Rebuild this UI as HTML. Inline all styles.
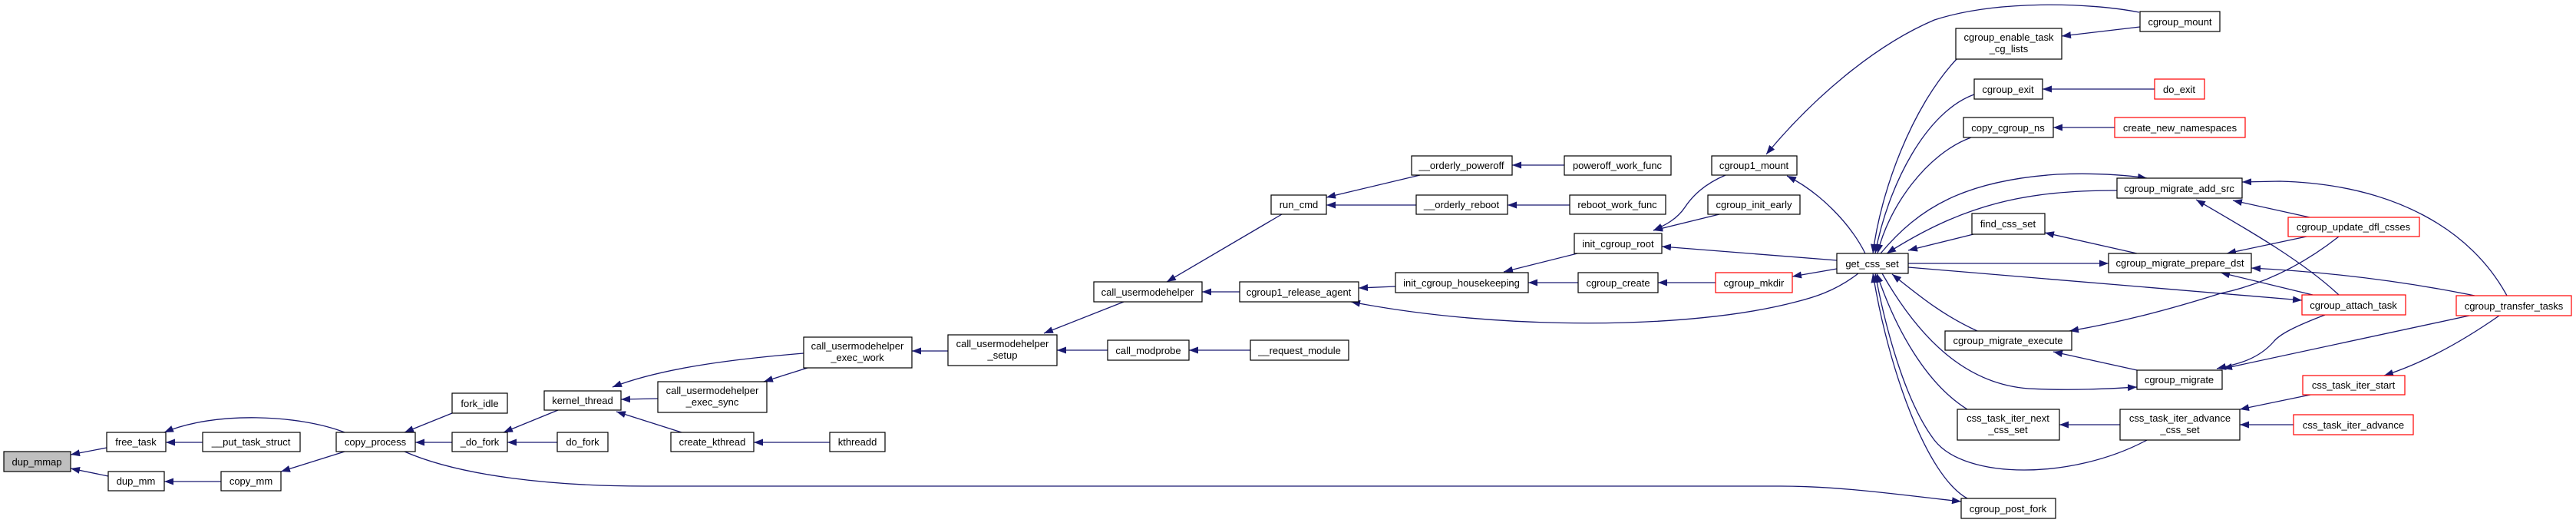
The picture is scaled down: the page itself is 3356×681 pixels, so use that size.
<!DOCTYPE html>
<html><head><meta charset="utf-8"><style>
html,body{margin:0;padding:0;background:#fff;}
svg{display:block;}
text{font-family:"Liberation Sans",sans-serif;font-size:13px;fill:#000;text-anchor:middle;}
.n{fill:#fff;stroke:#000;stroke-width:1.2;}
.r{fill:#fff;stroke:#f00;stroke-width:1.2;}
.g{fill:#bfbfbf;stroke:#000;stroke-width:1.2;}
.e{fill:none;stroke:#191970;stroke-width:1.3;marker-end:url(#a);}
</style></head><body>
<svg width="3356" height="681" viewBox="0 0 3356 681" xmlns="http://www.w3.org/2000/svg">
<defs><marker id="a" markerUnits="userSpaceOnUse" markerWidth="12" markerHeight="9" refX="12" refY="4.5" orient="auto"><path d="M0,0 L12,4.5 L0,9 z" fill="#191970"/></marker></defs>
<g>
<path class="e" d="M139,583 L92,592"/>
<path class="e" d="M141,620 L92,610"/>
<path class="e" d="M264,576 L216,576"/>
<path class="e" d="M449,563 C390,540 280,535 214,563"/>
<path class="e" d="M288,627 L214,627"/>
<path class="e" d="M449,588 L366,614"/>
<path class="e" d="M589,538 L527,563"/>
<path class="e" d="M589,576 L541,576"/>
<path class="e" d="M727,534 L656,563"/>
<path class="e" d="M726,576 L661,576"/>
<path class="e" d="M527,588 C600,620 720,633 840,633 L2320,633 C2400,633 2480,645 2555,653"/>
<path class="e" d="M1047,460 C950,468 860,480 798,504"/>
<path class="e" d="M857,519 L809,520"/>
<path class="e" d="M888,563 L803,536"/>
<path class="e" d="M1052,479 L995,497"/>
<path class="e" d="M1235,457 L1188,457"/>
<path class="e" d="M1081,576 L982,576"/>
<path class="e" d="M1464,393 L1360,434"/>
<path class="e" d="M1443,456 L1377,456"/>
<path class="e" d="M1629,456 L1549,456"/>
<path class="e" d="M1670,279 L1520,367"/>
<path class="e" d="M1615,380 L1566,380"/>
<path class="e" d="M1850,228 L1728,257"/>
<path class="e" d="M1845,267 L1728,267"/>
<path class="e" d="M2038,215 L1970,215"/>
<path class="e" d="M2045,267 L1964,267"/>
<path class="e" d="M1818,373 L1770,375"/>
<path class="e" d="M2421,356 C2390,380 2360,388 2340,393 C2200,430 1950,430 1760,393"/>
<path class="e" d="M2055,330 L1959,354"/>
<path class="e" d="M2056,368 L1991,368"/>
<path class="e" d="M2235,368 L2160,368"/>
<path class="e" d="M2248,228 C2220,240 2205,255 2195,270 C2185,285 2170,293 2154,300"/>
<path class="e" d="M2240,279 L2154,300"/>
<path class="e" d="M2393,339 L2165,321"/>
<path class="e" d="M2393,350 L2335,360"/>
<path class="e" d="M2430,330 C2410,290 2370,250 2328,229"/>
<path class="e" d="M2787,16 C2720,3 2600,0 2520,26 C2440,60 2360,130 2301,201"/>
<path class="e" d="M2788,35 L2686,47"/>
<path class="e" d="M2807,116 L2661,116"/>
<path class="e" d="M2755,166 L2675,166"/>
<path class="e" d="M2549,77 C2490,140 2450,250 2440,330"/>
<path class="e" d="M2572,123 C2510,145 2460,240 2443,330"/>
<path class="e" d="M2568,179 C2510,200 2460,270 2446,330"/>
<path class="e" d="M2450,330 C2500,270 2560,235 2680,227 C2730,225 2770,228 2797,232"/>
<path class="e" d="M2758,248 C2640,248 2560,265 2458,330"/>
<path class="e" d="M2571,305 L2486,326"/>
<path class="e" d="M2784,330 L2664,303"/>
<path class="e" d="M2486,343 L2747,343"/>
<path class="e" d="M2486,348 L2999,391"/>
<path class="e" d="M2576,431 C2530,410 2500,385 2465,357"/>
<path class="e" d="M3009,283 L2909,261"/>
<path class="e" d="M3047,384 C3000,340 2930,300 2861,260"/>
<path class="e" d="M3266,385 C3220,300 3120,240 2970,236 L2921,237"/>
<path class="e" d="M3005,308 L2901,330"/>
<path class="e" d="M3013,384 L2893,355"/>
<path class="e" d="M3224,385 C3150,370 3050,355 2933,349"/>
<path class="e" d="M3047,308 C3000,345 2950,370 2893,382 C2820,405 2760,420 2696,431"/>
<path class="e" d="M2784,482 L2675,458"/>
<path class="e" d="M3029,410 C2990,425 2970,435 2962,445 C2940,470 2910,475 2888,480"/>
<path class="e" d="M3217,411 L2896,480"/>
<path class="e" d="M2452,356 C2500,440 2560,500 2643,506 C2700,509 2750,506 2784,504"/>
<path class="e" d="M3256,411 C3200,450 3150,475 3106,489"/>
<path class="e" d="M3010,514 L2918,533"/>
<path class="e" d="M2988,553 L2918,553"/>
<path class="e" d="M2762,553 L2683,553"/>
<path class="e" d="M2563,533 C2510,500 2470,430 2445,356"/>
<path class="e" d="M2797,573 C2700,625 2560,625 2520,573 C2480,520 2455,420 2443,356"/>
<path class="e" d="M2563,649 C2510,620 2460,480 2440,356"/>
</g>
<g>
<rect class="g" x="5" y="588" width="87" height="26"/><text x="48" y="606">dup_mmap</text>
<rect class="n" x="139" y="563" width="77" height="25"/><text x="177" y="580">free_task</text>
<rect class="n" x="264" y="563" width="127" height="25"/><text x="327" y="580">__put_task_struct</text>
<rect class="n" x="141" y="614" width="73" height="25"/><text x="177" y="631">dup_mm</text>
<rect class="n" x="288" y="614" width="78" height="25"/><text x="327" y="631">copy_mm</text>
<rect class="n" x="438" y="563" width="103" height="25"/><text x="489" y="580">copy_process</text>
<rect class="n" x="589" y="512" width="72" height="26"/><text x="625" y="530">fork_idle</text>
<rect class="n" x="589" y="563" width="72" height="25"/><text x="625" y="580">_do_fork</text>
<rect class="n" x="709" y="509" width="100" height="25"/><text x="759" y="526">kernel_thread</text>
<rect class="n" x="726" y="563" width="66" height="25"/><text x="759" y="580">do_fork</text>
<rect class="n" x="1047" y="439" width="141" height="40"/><text x="1117" y="455">call_usermodehelper</text><text x="1117" y="470">_exec_work</text>
<rect class="n" x="857" y="497" width="142" height="40"/><text x="928" y="513">call_usermodehelper</text><text x="928" y="528">_exec_sync</text>
<rect class="n" x="874" y="563" width="108" height="25"/><text x="928" y="580">create_kthread</text>
<rect class="n" x="1081" y="563" width="72" height="25"/><text x="1117" y="580">kthreadd</text>
<rect class="n" x="1235" y="436" width="142" height="40"/><text x="1306" y="452">call_usermodehelper</text><text x="1306" y="467">_setup</text>
<rect class="n" x="1425" y="367" width="141" height="26"/><text x="1495" y="385">call_usermodehelper</text>
<rect class="n" x="1443" y="443" width="106" height="26"/><text x="1496" y="461">call_modprobe</text>
<rect class="n" x="1629" y="443" width="128" height="26"/><text x="1693" y="461">__request_module</text>
<rect class="n" x="1656" y="254" width="72" height="25"/><text x="1692" y="271">run_cmd</text>
<rect class="n" x="1615" y="367" width="155" height="26"/><text x="1692" y="385">cgroup1_release_agent</text>
<rect class="n" x="1839" y="203" width="131" height="25"/><text x="1904" y="220">__orderly_poweroff</text>
<rect class="n" x="2038" y="203" width="139" height="25"/><text x="2107" y="220">poweroff_work_func</text>
<rect class="n" x="1845" y="254" width="119" height="25"/><text x="1904" y="271">__orderly_reboot</text>
<rect class="n" x="2045" y="254" width="125" height="25"/><text x="2107" y="271">reboot_work_func</text>
<rect class="n" x="2230" y="203" width="111" height="25"/><text x="2285" y="220">cgroup1_mount</text>
<rect class="n" x="2225" y="254" width="120" height="25"/><text x="2285" y="271">cgroup_init_early</text>
<rect class="n" x="2051" y="304" width="114" height="26"/><text x="2108" y="322">init_cgroup_root</text>
<rect class="n" x="1818" y="355" width="173" height="26"/><text x="1904" y="373">init_cgroup_housekeeping</text>
<rect class="n" x="2056" y="355" width="104" height="26"/><text x="2108" y="373">cgroup_create</text>
<rect class="r" x="2235" y="355" width="100" height="26"/><text x="2285" y="373">cgroup_mkdir</text>
<rect class="n" x="2393" y="330" width="93" height="26"/><text x="2439" y="348">get_css_set</text>
<rect class="n" x="2788" y="15" width="104" height="26"/><text x="2840" y="33">cgroup_mount</text>
<rect class="n" x="2548" y="37" width="138" height="40"/><text x="2617" y="53">cgroup_enable_task</text><text x="2617" y="68">_cg_lists</text>
<rect class="n" x="2572" y="103" width="89" height="26"/><text x="2616" y="121">cgroup_exit</text>
<rect class="r" x="2807" y="103" width="65" height="26"/><text x="2839" y="121">do_exit</text>
<rect class="n" x="2558" y="153" width="117" height="26"/><text x="2616" y="171">copy_cgroup_ns</text>
<rect class="r" x="2755" y="153" width="170" height="26"/><text x="2840" y="171">create_new_namespaces</text>
<rect class="n" x="2758" y="232" width="163" height="26"/><text x="2839" y="250">cgroup_migrate_add_src</text>
<rect class="n" x="2569" y="278" width="95" height="27"/><text x="2616" y="296">find_css_set</text>
<rect class="r" x="2981" y="283" width="171" height="25"/><text x="3066" y="300">cgroup_update_dfl_csses</text>
<rect class="n" x="2747" y="330" width="186" height="25"/><text x="2840" y="347">cgroup_migrate_prepare_dst</text>
<rect class="r" x="2999" y="384" width="135" height="26"/><text x="3066" y="402">cgroup_attach_task</text>
<rect class="r" x="3200" y="385" width="150" height="26"/><text x="3275" y="403">cgroup_transfer_tasks</text>
<rect class="n" x="2534" y="431" width="165" height="25"/><text x="2616" y="448">cgroup_migrate_execute</text>
<rect class="n" x="2784" y="482" width="111" height="25"/><text x="2839" y="499">cgroup_migrate</text>
<rect class="r" x="3000" y="489" width="133" height="25"/><text x="3066" y="506">css_task_iter_start</text>
<rect class="n" x="2550" y="533" width="133" height="40"/><text x="2616" y="549">css_task_iter_next</text><text x="2616" y="564">_css_set</text>
<rect class="n" x="2762" y="533" width="156" height="40"/><text x="2840" y="549">css_task_iter_advance</text><text x="2840" y="564">_css_set</text>
<rect class="r" x="2988" y="540" width="156" height="26"/><text x="3066" y="558">css_task_iter_advance</text>
<rect class="n" x="2555" y="649" width="123" height="26"/><text x="2616" y="667">cgroup_post_fork</text>
</g>
</svg>
</body></html>
